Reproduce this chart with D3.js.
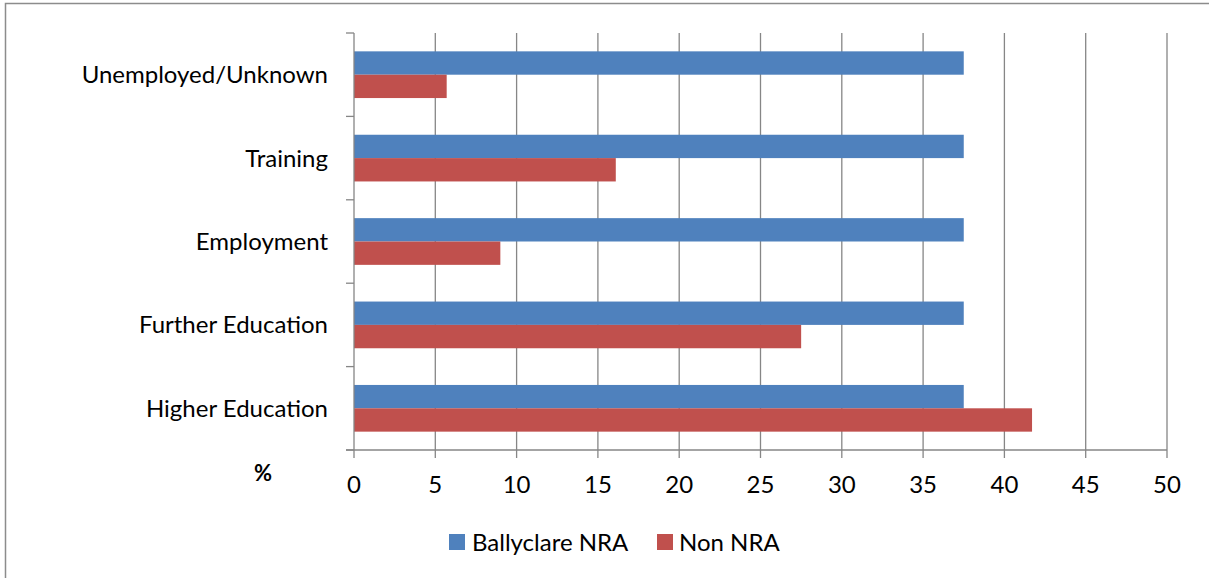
<!DOCTYPE html>
<html><head><meta charset="utf-8">
<script src="https://cdn.jsdelivr.net/npm/d3@7"></script>
<style>body{margin:0;background:#fff}svg{display:block}text{font-family:Lato,"Open Sans",sans-serif;fill:#000}</style>
</head><body>
<svg id="c" width="1209" height="578"></svg>
<script>
const categories = ["Unemployed/Unknown","Training","Employment","Further Education","Higher Education"];
const seriesNames = ["Ballyclare NRA","Non NRA"];
const ballyclare = [37.5,37.5,37.5,37.5,37.5];
const nonNRA = [5.7,16.1,9.0,27.5,41.7];
const xTicks = [0,5,10,15,20,25,30,35,40,45,50];
const colors = ["#4F81BD","#C0504D"];
const grid = "#868686";

const svg = d3.select("#c");
svg.append("rect").attr("x",5.5).attr("y",3.5).attr("width",1240).attr("height",600)
  .attr("fill","none").attr("stroke","#8c8c8c").attr("stroke-width",1.5);

const L=354,R=1167,T=33,B=450;
const x = d3.scaleLinear().domain([0,50]).range([L,R]);
const y = d3.scaleBand().domain(categories).range([T,B]).paddingInner(0.44).paddingOuter(0.22);
const sub = d3.scaleBand().domain(seriesNames).range([0,y.bandwidth()]);
const edge = d3.scaleLinear().domain([0,categories.length]).range([B,T]);

// gridlines
svg.append("g").selectAll("line").data(xTicks.slice(1)).join("line")
  .attr("x1",d=>x(d)).attr("x2",d=>x(d)).attr("y1",T).attr("y2",B+8)
  .attr("stroke",grid).attr("stroke-width",1.3);

// bars
const data = categories.map((c,i)=>({c,vals:[ballyclare[i],nonNRA[i]]}));
const g = svg.append("g");
data.forEach(d=>{
  d.vals.forEach((v,j)=>{
    g.append("rect").attr("x",x(0)).attr("y",y(d.c)+sub(seriesNames[j]))
      .attr("width",x(v)-x(0)).attr("height",sub.bandwidth()).attr("fill",colors[j]);
  });
});

// axes
svg.append("line").attr("x1",L-8).attr("x2",R).attr("y1",B).attr("y2",B).attr("stroke",grid).attr("stroke-width",1.3);
svg.append("line").attr("x1",L).attr("x2",L).attr("y1",T).attr("y2",B+8).attr("stroke",grid).attr("stroke-width",1.3);
svg.append("g").selectAll("line").data(d3.range(categories.length+1)).join("line")
  .attr("x1",L-8).attr("x2",L).attr("y1",d=>edge(d)).attr("y2",d=>edge(d))
  .attr("stroke",grid).attr("stroke-width",1.3);

// x tick labels
svg.append("g").selectAll("text").data(xTicks).join("text")
  .attr("x",d=>x(d)).attr("y",493).attr("text-anchor","middle").attr("font-size",24).text(d=>d);
// category labels
svg.append("g").selectAll("text").data(categories).join("text")
  .attr("x",328).attr("y",d=>y(d)+y.bandwidth()/2+8.5).attr("text-anchor","end").attr("font-size",24).text(d=>d);
svg.append("text").attr("x",263).attr("y",481).attr("text-anchor","middle").attr("font-size",22).attr("font-weight","bold").text("%");

// legend
const leg = [{x:449,tx:472},{x:657,tx:679}];
seriesNames.forEach((s,i)=>{
  svg.append("rect").attr("x",leg[i].x).attr("y",534).attr("width",16).attr("height",16).attr("fill",colors[i]);
  svg.append("text").attr("x",leg[i].tx).attr("y",551).attr("font-size",24).text(s);
});
</script>
</body></html>
